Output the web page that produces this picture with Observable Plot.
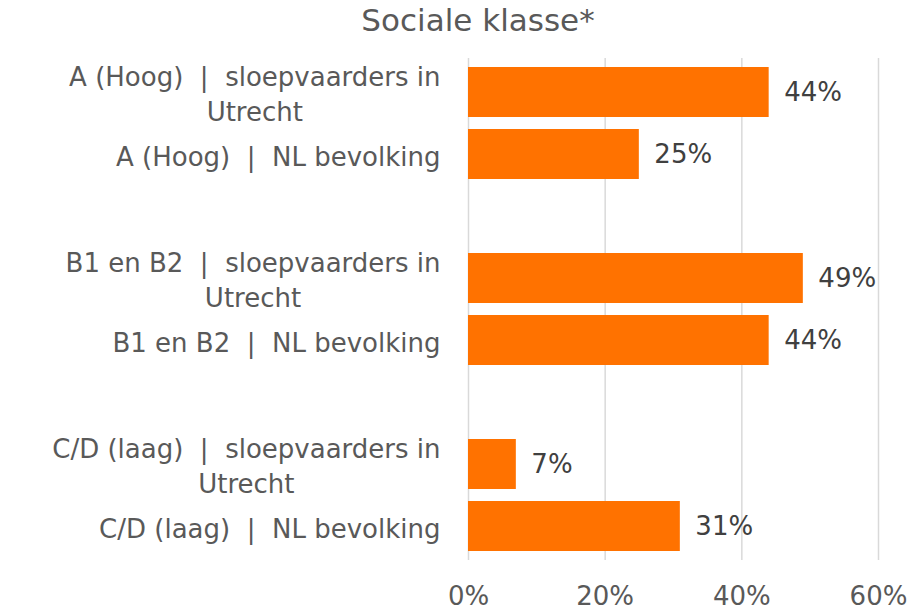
<!DOCTYPE html>
<html>
<head>
<meta charset="utf-8">
<script src="https://cdn.jsdelivr.net/npm/d3@7"></script>
<script src="https://cdn.jsdelivr.net/npm/@observablehq/plot@0.6"></script>
<style>
  html, body { margin: 0; padding: 0; background: #ffffff; }
  #title {
    width: 920px; box-sizing: border-box; padding-left: 36px;
    height: 45px; line-height: 40px; text-align: center;
    font-family: "DejaVu Sans", sans-serif; font-size: 31px; color: #595959;
  }
  svg text { white-space: pre; }
</style>
</head>
<body>
<div id="title">Sociale klasse*</div>
<div id="chart"></div>
<script>
// ---- data ----
const categories = [
  "A (Hoog)  |  sloepvaarders in\nUtrecht",
  "A (Hoog)  |  NL bevolking",
  "B1 en B2  |  sloepvaarders in\nUtrecht",
  "B1 en B2  |  NL bevolking",
  "C/D (laag)  |  sloepvaarders in\nUtrecht",
  "C/D (laag)  |  NL bevolking"
];
const values = [44, 25, 49, 44, 7, 31];
const groupGaps = ["gap1", "gap2"];
const xTicks = [0, 20, 40, 60];

const FONT = "'DejaVu Sans', sans-serif";
const FS = 26;
const data = categories.map((label, i) => ({label, value: values[i]}));
const yDomain = [categories[0], categories[1], groupGaps[0], categories[2], categories[3], groupGaps[1], categories[4], categories[5]];

// measure text width to centre wrapped lines the way Excel does
const ctx = document.createElement("canvas").getContext("2d");
ctx.font = `${FS}px 'DejaVu Sans'`;
const measure = s => ctx.measureText(s).width;
const PAD = 28;

const labelMarks = data.map(d => {
  const lines = d.label.split("\n");
  const multi = lines.length > 1;
  return Plot.text([d], {
    y: "label",
    frameAnchor: "left",
    text: "label",
    textAnchor: multi ? "middle" : "end",
    dx: multi ? -PAD - measure(lines[0]) / 2 : -PAD,
    lineAnchor: "middle",
    lineHeight: 1.33,
    fontSize: FS,
    fill: "#595959"
  });
});

const chart = Plot.plot({
  width: 920,
  height: 568,
  marginLeft: 468,
  marginRight: 42,
  marginTop: 13,
  marginBottom: 53,
  style: {fontFamily: FONT, fontSize: FS + "px", color: "#595959", background: "#ffffff"},
  x: {domain: [0, 60], axis: null},
  y: {domain: yDomain, paddingInner: 0.2, paddingOuter: 0.1, axis: null},
  marks: [
    Plot.gridX(xTicks, {stroke: "#d9d9d9", strokeOpacity: 1, strokeWidth: 1.5}),
    Plot.barX(data, {x: "value", y: "label", fill: "#FF7200"}),
    Plot.text(data, {x: "value", y: "label", text: d => d.value + "%", textAnchor: "start", dx: 15, fontSize: FS, fill: "#404040"}),
    Plot.axisX(xTicks, {tickFormat: d => d + "%", tickSize: 0, tickPadding: 26, fontSize: FS, fill: "#595959", label: null}),
    ...labelMarks
  ]
});
document.getElementById("chart").appendChild(chart);
</script>
</body>
</html>
